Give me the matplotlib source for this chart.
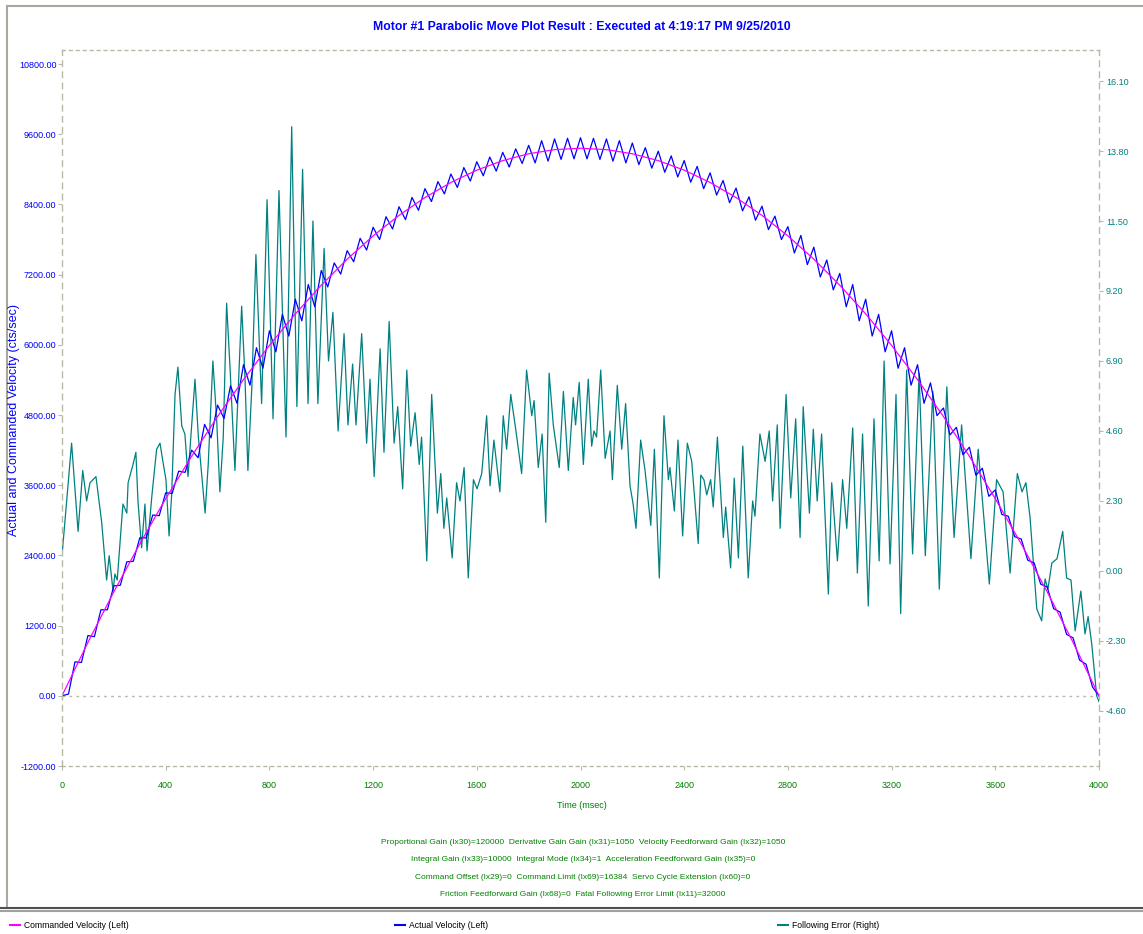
import matplotlib.pyplot as plt
from matplotlib.lines import Line2D
from matplotlib.ticker import FormatStrFormatter

plt.rcParams['font.family'] = ['Liberation Sans', 'DejaVu Sans']
plt.rcParams['axes.unicode_minus'] = False

# ---- data ----
cmd_t = list(range(0, 4001, 100))
cmd_v = [0, 913, 1778, 2597, 3370, 4095, 4774, 5405, 5990, 6529, 7020, 7465, 7862, 8213,
         8518, 8775, 8986, 9149, 9266, 9337, 9360, 9337, 9266, 9149, 8986, 8775, 8518, 8213,
         7862, 7465, 7020, 6529, 5990, 5405, 4774, 4095, 3370, 2597, 1778, 913, 0]

act_t = list(range(0, 4001, 25))
act_v = [0, 30, 580, 570, 1030, 1010, 1470, 1470, 1880, 1890, 2290, 2300, 2700, 2700,
         3090, 3080, 3470, 3460, 3840, 3820, 4200, 4070, 4640, 4410, 4970, 4740, 5300, 5000,
         5660, 5310, 5950, 5600, 6240, 5880, 6520, 6150, 6780, 6410, 7030, 6650, 7270, 6990,
         7400, 7210, 7610, 7420, 7820, 7620, 8010, 7800, 8190, 7980, 8360, 8140, 8520, 8300,
         8670, 8450, 8790, 8580, 8920, 8690, 9030, 8800, 9130, 8890, 9210, 8970, 9290, 9040,
         9350, 9100, 9410, 9110, 9490, 9140, 9520, 9170, 9530, 9180, 9540, 9180, 9530, 9170,
         9520, 9140, 9490, 9110, 9450, 9080, 9370, 9020, 9310, 8950, 9230, 8870, 9150, 8780,
         9050, 8670, 8940, 8560, 8810, 8430, 8680, 8290, 8530, 8130, 8370, 7970, 8200, 7800,
         8020, 7570, 7870, 7370, 7670, 7160, 7450, 6940, 7220, 6650, 7030, 6410, 6780, 6150,
         6520, 5880, 6240, 5600, 5950, 5310, 5660, 5000, 5350, 4790, 4920, 4460, 4590, 4120,
         4250, 3770, 3890, 3410, 3520, 3100, 3070, 2720, 2680, 2320, 2270, 1910, 1860, 1490,
         1430, 1050, 990, 610, 540, 150, 0]

err_t = [0, 37, 62, 80, 95, 108, 131, 153, 166, 172, 182, 197, 204, 213, 235, 250, 255, 274,
         285, 293, 307, 320, 328, 347, 365, 378, 391, 401, 413, 423, 436, 447, 462, 474, 486,
         513, 526, 552, 564, 582, 597, 609, 622, 635, 648, 667, 680, 693, 706, 717, 732, 748,
         770, 791, 814, 837, 864, 886, 906, 928, 949, 968, 987, 1011, 1028, 1045, 1065, 1088,
         1103, 1121, 1134, 1156, 1175, 1188, 1204, 1227, 1242, 1262, 1281, 1295, 1314, 1330,
         1345, 1362, 1378, 1387, 1407, 1426, 1448, 1461, 1473, 1484, 1505, 1522, 1535, 1551,
         1567, 1587, 1601, 1619, 1638, 1651, 1666, 1689, 1702, 1715, 1731, 1751, 1773, 1792,
         1812, 1821, 1837, 1852, 1866, 1879, 1895, 1918, 1934, 1953, 1972, 1981, 1995, 2011,
         2030, 2043, 2052, 2062, 2078, 2095, 2114, 2123, 2142, 2159, 2174, 2191, 2203, 2214,
         2232, 2249, 2271, 2285, 2304, 2322, 2339, 2345, 2362, 2376, 2394, 2412, 2429, 2454,
         2464, 2476, 2487, 2502, 2512, 2528, 2551, 2560, 2579, 2593, 2609, 2626, 2647, 2664,
         2673, 2692, 2712, 2728, 2741, 2759, 2770, 2793, 2811, 2830, 2847, 2859, 2883, 2898,
         2913, 2930, 2956, 2969, 2991, 3011, 3027, 3050, 3068, 3088, 3110, 3132, 3152, 3171,
         3194, 3217, 3235, 3258, 3281, 3306, 3330, 3359, 3384, 3413, 3441, 3470, 3506, 3534,
         3577, 3605, 3630, 3657, 3685, 3703, 3718, 3734, 3760, 3779, 3792, 3803, 3818, 3838,
         3860, 3875, 3892, 3908, 3930, 3946, 3958, 3972, 3981, 3991, 4000]
err_v = [0.5, 4.2, 1.3, 3.3, 2.3, 2.9, 3.1, 1.6, 0.3, -0.3, 0.5, -0.66, -0.1, -0.3, 2.2, 1.9,
         2.9, 3.5, 3.9, 2.3, 0.76, 2.2, 0.66, 2.5, 4.0, 4.2, 3.5, 3.0, 1.15, 2.5, 5.8, 6.7,
         4.76, 4.5, 3.1, 6.3, 4.4, 1.9, 3.5, 6.9, 4.9, 2.6, 4.4, 8.8, 6.7, 3.3, 6.0, 8.7, 6.3,
         3.3, 6.0, 10.4, 5.5, 12.2, 5.0, 12.5, 4.4, 14.6, 5.4, 13.2, 5.5, 11.5, 5.5, 10.6,
         6.9, 8.5, 4.6, 7.8, 4.8, 6.8, 4.8, 7.8, 4.2, 6.3, 3.1, 7.3, 3.9, 8.2, 4.2, 5.4, 2.7,
         6.6, 4.1, 5.2, 3.5, 4.4, 0.33, 5.8, 1.9, 3.2, 1.4, 2.4, 0.43, 2.9, 2.3, 3.4, -0.23,
         3.0, 2.7, 3.2, 5.1, 2.8, 4.3, 2.6, 5.1, 4.0, 5.8, 4.6, 3.2, 6.6, 5.1, 5.6, 3.4, 4.5,
         1.6, 6.5, 4.8, 3.4, 5.9, 3.3, 5.7, 4.8, 6.2, 3.5, 6.3, 4.1, 4.6, 4.4, 6.6, 3.7, 4.6,
         3.0, 6.1, 4.0, 5.5, 2.8, 2.2, 1.4, 4.3, 3.3, 1.5, 4.0, -0.23, 5.1, 3.0, 3.4, 1.97,
         4.3, 1.15, 4.2, 3.6, 0.9, 3.15, 3.0, 2.5, 3.0, 2.1, 4.4, 1.1, 2.1, 0.1, 3.05, 0.43,
         4.1, -0.23, 2.3, 1.8, 4.5, 3.6, 4.6, 2.3, 4.8, 1.4, 5.8, 2.4, 5.0, 1.1, 5.4, 1.9,
         4.66, 2.3, 4.5, -0.76, 2.9, 0.33, 3.0, 1.4, 4.7, -0.07, 4.5, -1.15, 5.0, 0.33, 6.9,
         0.23, 5.8, -1.4, 6.6, 0.56, 6.5, 0.5, 5.9, -0.6, 6.05, 1.1, 4.8, 0.4, 4.0, -0.43,
         3.0, 2.6, -0.07, 3.2, 2.6, 2.9, 1.76, -1.25, -1.64, -0.26, -0.6, 0.26, 0.4, 1.3,
         -0.23, -0.3, -1.97, -0.66, -2.07, -1.5, -2.4, -3.2, -4.1, -4.3]

left_ticks = [-1200, 0, 1200, 2400, 3600, 4800, 6000, 7200, 8400, 9600, 10800]
right_ticks = [-4.60, -2.30, 0.00, 2.30, 4.60, 6.90, 9.20, 11.50, 13.80, 16.10]
x_ticks = [0, 400, 800, 1200, 1600, 2000, 2400, 2800, 3200, 3600, 4000]

title = "Motor #1 Parabolic Move Plot Result : Executed at 4:19:17 PM 9/25/2010"
gains = [
    "Proportional Gain (Ix30)=120000  Derivative Gain Gain (Ix31)=1050  Velocity Feedforward Gain (Ix32)=1050",
    "Integral Gain (Ix33)=10000  Integral Mode (Ix34)=1  Acceleration Feedforward Gain (Ix35)=0",
    "Command Offset (Ix29)=0  Command Limit (Ix69)=16384  Servo Cycle Extension (Ix60)=0",
    "Friction Feedforward Gain (Ix68)=0  Fatal Following Error Limit (Ix11)=32000",
]
legend_labels = ["Commanded Velocity (Left)", "Actual Velocity (Left)", "Following Error (Right)"]

MAGENTA, BLUE, TEAL, GREEN = '#ff00ff', '#0000ff', '#008080', '#008000'
FRAME = '#b8b8a8'

W, H = 1143, 934
fig = plt.figure(figsize=(W / 100, H / 100), dpi=100)
ax = fig.add_axes([62 / W, 1 - 766 / H, (1099 - 62) / W, (766 - 50) / H])
ax2 = ax.twinx()

ax2.plot(err_t, err_v, color=TEAL, lw=0.9)
ax.plot(act_t, act_v, color=BLUE, lw=0.9)
ax.plot(cmd_t, cmd_v, color=MAGENTA, lw=0.9)
ax.set_zorder(ax2.get_zorder() + 1)
ax.patch.set_visible(False)

ax.set_xlim(0, 4000)
ax.set_ylim(-1200, 11040)
ax2.set_ylim(-6.41, 17.12)
ax.axhline(0, color=FRAME, lw=1, ls=(0, (2, 3)), zorder=0)

ax.set_xticks(x_ticks)
ax.set_yticks(left_ticks)
ax2.set_yticks(right_ticks)
ax.yaxis.set_major_formatter(FormatStrFormatter('%.2f'))
ax2.yaxis.set_major_formatter(FormatStrFormatter('%.2f'))

for a in (ax, ax2):
    for s in a.spines.values():
        s.set_visible(False)
ax.spines['left'].set_visible(True)
ax.spines['left'].set_linestyle((0, (4, 4)))
ax.spines['top'].set_visible(True)
ax.spines['top'].set_linestyle((0, (2, 3)))
ax.spines['bottom'].set_visible(True)
ax.spines['bottom'].set_linestyle((0, (2, 3)))
ax2.spines['right'].set_visible(True)
ax2.spines['right'].set_linestyle((0, (4, 4)))
for s in list(ax.spines.values()) + [ax2.spines['right']]:
    s.set_color(FRAME)
    s.set_linewidth(1)

ax.tick_params(axis='y', color=FRAME, labelcolor=BLUE, length=3, labelsize=6.5, pad=1)
ax.tick_params(axis='x', color=FRAME, labelcolor=GREEN, length=3, labelsize=6.5, pad=8)
ax2.tick_params(axis='y', color=FRAME, labelcolor=TEAL, length=3, labelsize=6.5, pad=2)

fig.text(582 / W, 1 - 27 / H, title, ha='center', va='center', color=BLUE,
         fontsize=8.8, fontweight='bold')
fig.text(14 / W, 1 - 420 / H, "Actual and Commanded Velocity (cts/sec)", rotation=90,
         ha='center', va='center', color=BLUE, fontsize=9)
fig.text(582 / W, 1 - 805 / H, "Time (msec)", ha='center', va='center', color=GREEN,
         fontsize=6.5)

for i, line in enumerate(gains):
    fig.text(583 / W, 1 - (842 + 17.6 * i) / H, line, ha='center', va='center',
             color=GREEN, fontsize=6)

# window frame and legend strip
fig.add_artist(Line2D([7 / W, 1], [1 - 6 / H] * 2, color='#a8a8a0', lw=1.5))
fig.add_artist(Line2D([7 / W] * 2, [1 - 6 / H, 1 - 908 / H], color='#a8a8a0', lw=1.5))
fig.add_artist(Line2D([0, 1], [1 - 908 / H] * 2, color='#505050', lw=1.5))
fig.add_artist(Line2D([0, 1], [1 - 911 / H] * 2, color='#a0a0a0', lw=1.5))

legend_x = [10, 395, 778]
for x0, label, col in zip(legend_x, legend_labels, [MAGENTA, BLUE, TEAL]):
    fig.add_artist(Line2D([x0 / W, (x0 + 10) / W], [1 - 925 / H] * 2, color=col, lw=1.5))
    fig.text((x0 + 14) / W, 1 - 925 / H, label, ha='left', va='center', color='black',
             fontsize=6.2)

fig.savefig('out.png', dpi=100)
